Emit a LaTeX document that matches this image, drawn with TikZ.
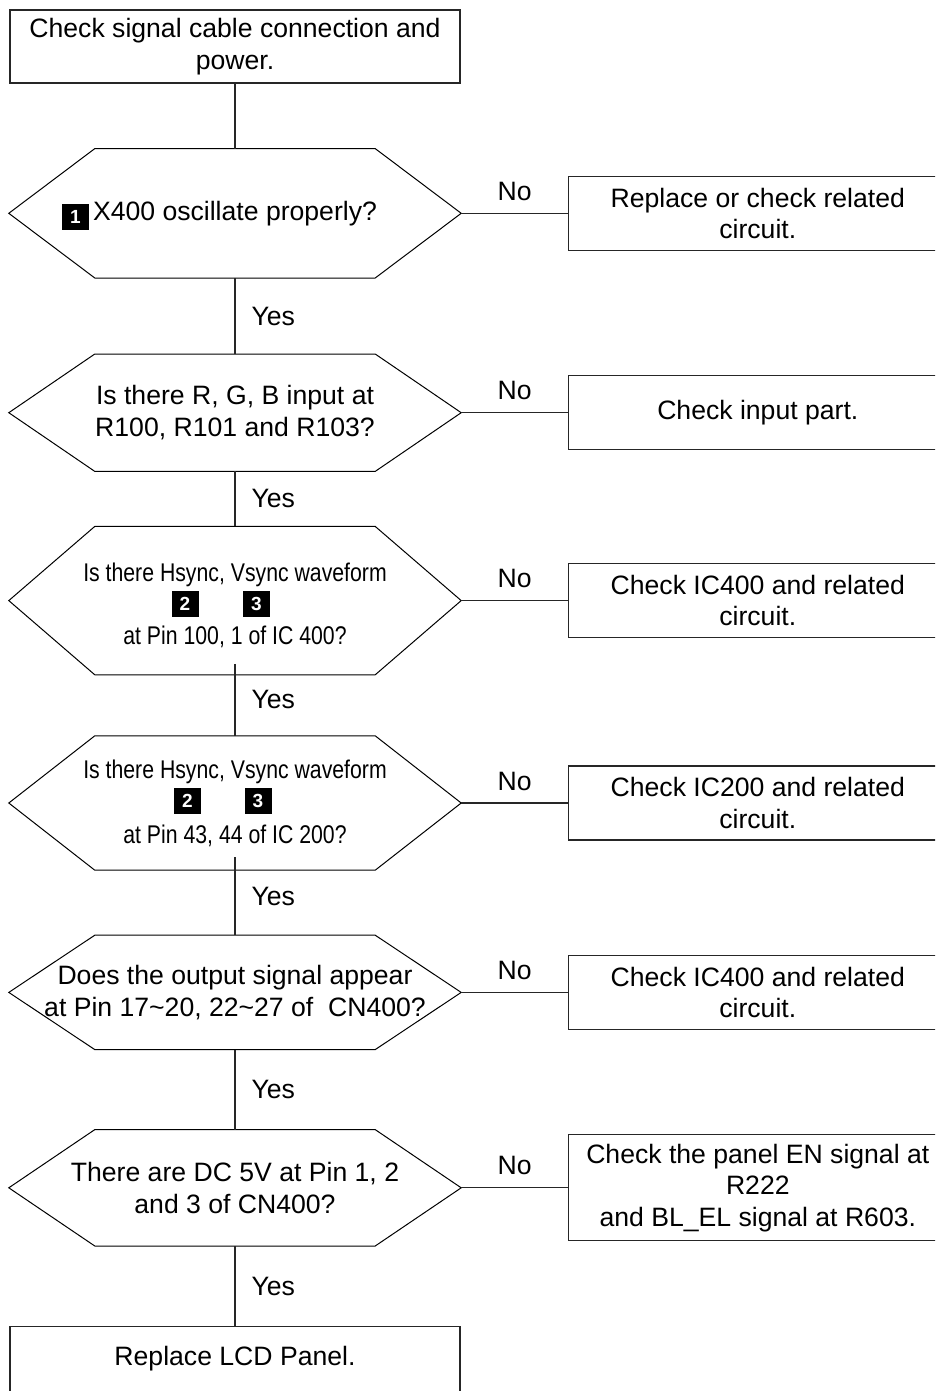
\documentclass[tikz,border=0pt]{standalone}
\usepackage{fontspec}
\setmainfont{Liberation Sans}
\newfontfamily\narrowfont{Liberation Sans}[FakeStretch=0.83]
\usetikzlibrary{positioning}
\tikzset{
  stepbox/.style={draw=black!85, line width=1.2pt, fill=white, align=center,
    inner sep=0pt, minimum height=73pt, font=\fontsize{26.6}{31.5}\selectfont},
  action/.style={stepbox, minimum width=450pt},
  fixbox/.style={stepbox, minimum width=378pt, minimum height=74pt},
  query/.style={minimum width=452pt, inner sep=0pt, align=center,
    font=\fontsize{26.6}{31.5}\selectfont},
  narrowq/.style={query, font=\narrowfont\fontsize{25.6}{31}\selectfont},
  hexline/.style={draw=black, line width=1pt, line join=miter},
  stepno/.style={fill=black, text=white, minimum width=27pt, minimum height=26pt,
    inner sep=0pt, font=\bfseries\fontsize{19}{19}\selectfont},
  link/.style={draw=black!85, line width=1.2pt},
  yes/.style={right=14pt, inner sep=2pt, font=\fontsize{26.6}{31.5}\selectfont},
  no/.style={above=10pt, inner sep=2pt, font=\fontsize{26.6}{31.5}\selectfont},
}
\begin{document}
\begin{tikzpicture}
\clip (0,0) rectangle (935pt,-1391pt);

% ---- main column ---------------------------------------------------
\node[action] (start) at (235pt,-46.5pt) {Check signal cable connection and\\power.};
\node[query, below=65pt of start, minimum height=129pt] (osc) {X400 oscillate properly?};
\node[query, below=76pt of osc, minimum height=117pt] (rgb)
  {Is there R, G, B input at\\R100, R101 and R103?};
\node[narrowq, below=55pt of rgb, minimum height=148pt] (sync)
  {\rule{0pt}{29pt}Is there Hsync, Vsync waveform\\[32pt]at Pin 100, 1 of IC 400?};
\node[narrowq, below=61pt of sync, minimum height=134pt] (scaler)
  {Is there Hsync, Vsync waveform\\[34pt]at Pin 43, 44 of IC 200?};
\node[query, below=65pt of scaler, minimum height=114pt] (out)
  {Does the output signal appear\\at Pin 17\textasciitilde 20, 22\textasciitilde 27 of\ \ CN400?};
\node[query, below=80pt of out, minimum height=116pt] (power)
  {There are DC 5V at Pin 1, 2\\and 3 of CN400?};
\node[action, below=80pt of power, text depth=15pt] (finish) {Replace LCD Panel.};

% hexagon outlines round the questions
\foreach \q in {osc,rgb,sync,scaler,out,power}
  \draw[hexline] (\q.west) -- ([xshift=86pt]\q.north west) -- ([xshift=-86pt]\q.north east)
    -- (\q.east) -- ([xshift=-86pt]\q.south east) -- ([xshift=86pt]\q.south west) -- cycle;

% ---- step numbers --------------------------------------------------
\node[stepno, xshift=-159.5pt, yshift=-3.5pt] at (osc) (no1) {1};
\node[stepno, xshift=-50pt, yshift=-3pt] at (sync) (no2a) {2};
\node[stepno, xshift=21.5pt, yshift=-3pt] at (sync) (no3a) {3};
\node[stepno, xshift=-47.5pt, yshift=2.5pt] at (scaler) (no2b) {2};
\node[stepno, xshift=23pt, yshift=2.5pt] at (scaler) (no3b) {3};

% ---- repair boxes --------------------------------------------------
\node[fixbox, right=107pt of osc] (fixosc) {Replace or check related\\circuit.};
\node[fixbox, right=107pt of rgb] (fixrgb) {Check input part.};
\node[fixbox, right=107pt of sync] (fixsync) {Check IC400 and related\\circuit.};
\node[fixbox, right=107pt of scaler] (fixscaler) {Check IC200 and related\\circuit.};
\node[fixbox, right=107pt of out] (fixout) {Check IC400 and related\\circuit.};
\node[fixbox, right=107pt of power, minimum height=106pt] (fixpower)
  {Check the panel EN signal at\\R222\\and BL\_EL signal at R603.};

% ---- connectors ----------------------------------------------------
\draw[link] (start.south) -- (osc.north);
\draw[link] (osc.south) -- node[yes] {Yes} (rgb.north);
\draw[link] (rgb.south) -- node[yes] {Yes} (sync.north);
\draw[link] ([yshift=11pt]sync.south) -- node[yes] {Yes} (scaler.north);
\draw[link] ([yshift=13pt]scaler.south) -- node[yes] {Yes} (out.north);
\draw[link] (out.south) -- node[yes] {Yes} (power.north);
\draw[link] (power.south) -- node[yes] {Yes} (finish.north);

\draw[link] (osc.east) -- node[no] {No} (fixosc.west);
\draw[link] (rgb.east) -- node[no] {No} (fixrgb.west);
\draw[link] (sync.east) -- node[no] {No} (fixsync.west);
\draw[link] (scaler.east) -- node[no] {No} (fixscaler.west);
\draw[link] (out.east) -- node[no] {No} (fixout.west);
\draw[link] (power.east) -- node[no] {No} (fixpower.west);

\end{tikzpicture}
\end{document}
